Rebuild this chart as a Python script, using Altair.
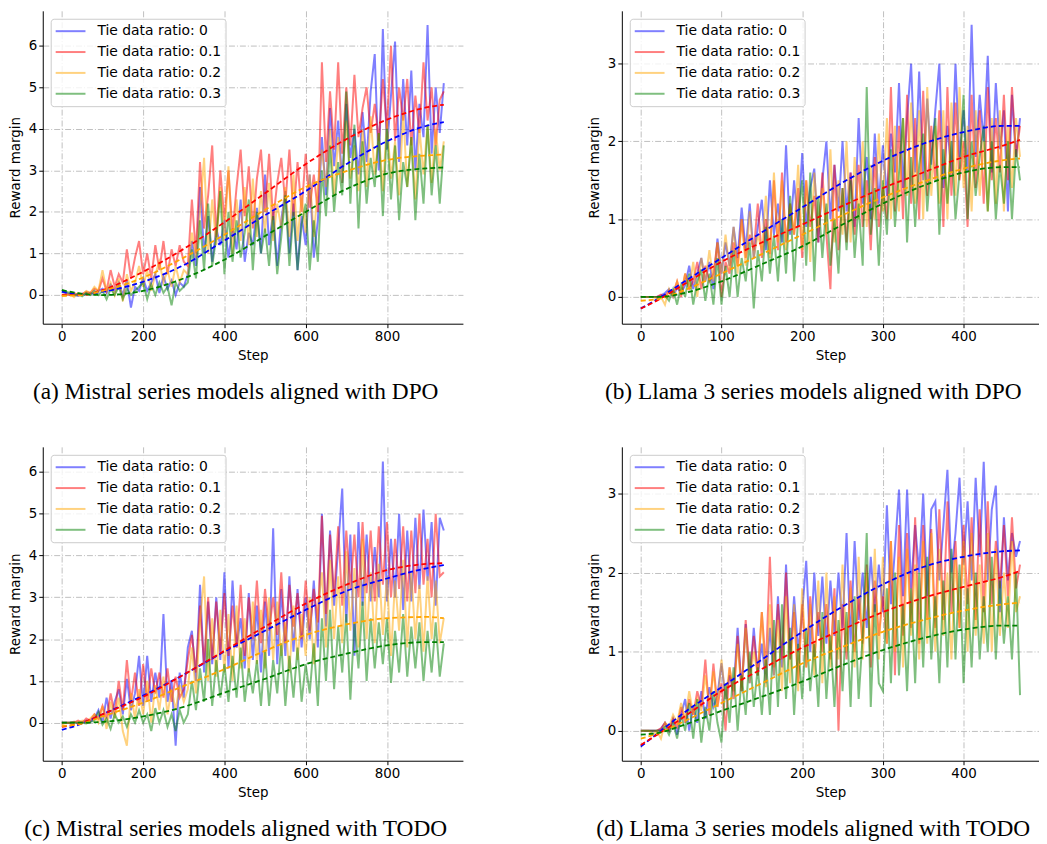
import altair as alt
import pandas as pd

LABELS = ["Tie data ratio: 0", "Tie data ratio: 0.1", "Tie data ratio: 0.2", "Tie data ratio: 0.3"]
COLORS = ["blue", "red", "orange", "green"]

M_STEP = 10   # Mistral runs: one logged value every 10 steps (0..940)
L_STEP = 5    # Llama 3 runs: one logged value every 5 steps (0..470)
M_FIT_X = [0, 50, 100, 200, 300, 400, 500, 600, 700, 800, 900, 940]
L_FIT_X = [0, 25, 50, 100, 150, 200, 250, 300, 350, 400, 450, 470]

M_XTICKS = [0, 200, 400, 600, 800]
L_XTICKS = [0, 100, 200, 300, 400]
M_YTICKS = [0, 1, 2, 3, 4, 5, 6]
L_YTICKS = [0, 1, 2, 3]

# ---------- (a) Mistral + DPO ----------
A_RAW_0 = [0.08, 0.05, 0.02, 0.0, -0.02, 0.03, 0.0, 0.05, 0.02, 0.1,
           0.15, 0.05, 0.25, 0.1, 0.3, 0.0, 0.35, -0.3, 0.2, 0.1,
           0.4, 0.1, 0.3, 0.5, 0.05, 0.45, 0.15, 0.35, 0.0, 0.3,
           0.2, 0.5, 1.3, 0.7, 2.6, 1.0, 1.9, 0.8, 1.6, 1.2,
           1.8, 0.9, 1.6, 1.1, 2.3, 0.8, 1.5, 1.2, 2.1, 1.0,
           2.9, 1.2, 2.0, 0.7, 1.8, 2.5, 1.0, 2.2, 0.6, 1.9,
           1.2, 2.9, 0.9, 1.8, 3.8, 2.4, 4.5, 3.1, 4.2, 2.7,
           4.6, 3.3, 4.0, 2.9, 4.4, 3.2, 4.9, 5.8, 3.0, 6.4,
           3.5, 4.8, 6.1, 3.2, 5.2, 3.6, 5.4, 3.0, 4.6, 3.8,
           6.5, 3.4, 5.0, 3.9, 5.1]
A_RAW_1 = [0.0, 0.02, 0.0, 0.05, 0.0, 0.03, 0.08, 0.05, 0.15, 0.1,
           0.4, 0.1, 0.6, 0.2, 0.5, 0.3, 1.1, 0.4, 0.9, 1.3,
           0.5, 1.0, 0.4, 1.2, 0.6, 1.3, 0.5, 1.1, 0.7, 1.2,
           0.8, 0.7, 2.3, 1.0, 3.2, 1.6, 2.4, 3.6, 1.4, 3.0,
           1.8, 3.0, 1.5, 2.6, 3.5, 1.9, 3.1, 1.6, 2.8, 3.5,
           2.0, 3.4, 1.8, 2.7, 3.3, 2.2, 3.5, 1.9, 3.2, 2.0,
           3.4, 2.1, 2.9, 2.0, 5.6, 3.2, 4.9, 3.5, 5.6, 3.4,
           5.0, 3.6, 5.3, 3.8, 4.5, 5.0, 3.9, 4.6, 3.7, 5.2,
           4.0, 6.0, 3.7, 5.0, 4.2, 5.2, 3.6, 4.8, 3.9, 5.6,
           4.2, 5.0, 3.6, 4.7, 4.9]
A_RAW_2 = [-0.02, 0.0, 0.03, -0.05, 0.05, 0.0, 0.1, 0.05, 0.2, 0.1,
           0.6, 0.1, 0.3, 0.0, 0.4, -0.15, 0.5, 0.1, 0.3, 0.7,
           0.2, 0.6, 0.1, 0.5, 0.8, 0.3, 0.6, 0.2, 0.7, 0.3,
           0.6, 0.5, 1.5, 0.9, 2.0, 3.3, 1.0, 2.3, 1.2, 2.6,
           1.3, 3.1, 1.0, 2.3, 1.3, 2.6, 1.2, 2.8, 1.4, 2.5,
           1.5, 2.7, 1.3, 2.2, 1.6, 2.6, 1.4, 2.9, 1.3, 2.4,
           1.5, 2.9, 1.4, 2.6, 3.5, 2.6, 4.0, 2.4, 3.8, 2.7,
           4.2, 2.8, 3.6, 2.5, 4.0, 2.6, 4.3, 2.9, 3.9, 2.5,
           4.2, 2.8, 3.7, 2.4, 4.4, 2.6, 3.8, 2.3, 4.0, 2.9,
           4.1, 2.7, 4.0, 3.0, 3.7]
A_RAW_3 = [0.12, 0.08, 0.05, 0.0, 0.02, -0.03, 0.05, 0.0, 0.1, 0.0,
           0.1, -0.1, 0.15, 0.0, 0.2, -0.1, 0.15, 0.0, 0.1, 0.2,
           0.3, -0.1, 0.25, 0.0, 0.3, 0.05, 0.2, -0.25, 0.3, 0.1,
           0.2, 0.3, 1.1, 0.4, 1.8, 0.6, 2.2, 0.7, 1.4, 2.5,
           0.5, 2.0, 0.8, 1.8, 0.9, 1.5, 2.3, 0.6, 2.0, 1.0,
           1.6, 0.7, 1.9, 0.5, 1.4, 2.4, 0.7, 2.0, 0.6, 1.7,
           2.2, 0.6, 1.8, 0.8, 3.0, 1.9, 3.6, 2.0, 3.2, 2.4,
           4.9, 2.2, 4.1, 1.6, 3.7, 2.2, 3.3, 2.6, 3.9, 1.9,
           4.0, 2.3, 3.6, 1.8, 3.2, 2.6, 3.8, 1.8, 3.4, 2.2,
           4.1, 2.4, 3.6, 2.2, 3.6]
A_FIT_0 = [0.08, 0.02, 0.08, 0.32, 0.72, 1.31, 1.92, 2.5, 3.15, 3.7, 4.08, 4.16]
A_FIT_1 = [0.0, 0.0, 0.12, 0.56, 1.11, 1.75, 2.45, 3.15, 3.75, 4.22, 4.52, 4.58]
A_FIT_2 = [-0.02, 0.0, 0.1, 0.42, 0.9, 1.45, 2.05, 2.6, 2.98, 3.25, 3.36, 3.38]
A_FIT_3 = [0.12, 0.03, 0.0, 0.1, 0.4, 0.85, 1.42, 2.0, 2.55, 2.92, 3.05, 3.07]

# ---------- (b) Llama 3 + DPO ----------
B_RAW_0 = [0.0, 0.0, 0.0, 0.0, 0.0, 0.02, 0.05, 0.1, 0.0, 0.12,
           0.05, 0.15, 0.4, 0.1, 0.3, 0.5, 0.2, 0.45, 0.1, 0.75,
           0.3, 0.7, 0.4, 0.9, 0.5, 1.15, 0.6, 1.2, 0.5, 0.9,
           1.25, 0.6, 1.5, 0.8, 1.2, 0.7, 1.95, 0.8, 1.5, 0.9,
           1.85, 0.9, 1.4, 1.65, 0.7, 1.5, 2.0, 1.0, 1.7, 1.1,
           2.0, 1.1, 1.6, 0.9, 2.3, 1.2, 1.8, 1.0, 2.1, 1.2,
           1.95, 1.3, 2.1, 1.6, 2.75, 1.4, 2.3, 3.0, 1.6, 2.9,
           1.5, 2.55, 1.7, 2.4, 3.0, 1.4, 2.2, 1.6, 3.0, 1.8,
           2.4, 1.6, 3.5, 1.8, 2.6, 2.0, 3.1, 1.6, 2.75, 1.9,
           2.4, 1.1, 2.6, 1.8, 2.3]
B_RAW_1 = [0.0, 0.0, 0.0, 0.0, 0.0, 0.03, 0.0, 0.08, 0.05, 0.2,
           0.0, 0.3, 0.1, 0.2, 0.45, 0.1, 0.4, 0.2, 0.3, 0.7,
           0.0, 0.45, 0.3, 0.7, 0.4, 1.0, 0.5, 0.8, 0.6, 1.2,
           0.5, 1.0, 0.55, 1.5, 0.6, 1.6, 0.7, 1.2, 0.8, 1.4,
           0.5, 1.5, 0.9, 1.3, 0.7, 1.6, 0.8, 0.1, 1.7, 0.6,
           1.4, 0.7, 1.6, 0.8, 1.7, 0.9, 1.5, 0.6, 1.8, 0.9,
           1.4, 1.0, 2.7, 1.1, 2.2, 1.0, 2.6, 1.2, 2.3, 1.0,
           2.65, 1.3, 2.2, 1.5, 2.4, 0.9, 2.7, 1.3, 2.5, 1.5,
           2.0, 0.9, 2.6, 1.4, 2.4, 1.2, 2.7, 1.5, 2.3, 1.6,
           2.6, 1.5, 2.7, 1.8, 2.2]
B_RAW_2 = [0.0, 0.0, 0.0, 0.0, -0.02, 0.0, -0.1, 0.1, 0.0, 0.2,
           0.05, 0.3, 0.1, 0.45, 0.0, 0.5, 0.2, 0.6, 0.2, 0.7,
           0.3, 0.8, 0.35, 0.9, 0.3, 1.0, 0.4, 1.1, 0.5, 0.8,
           0.6, 1.3, 0.5, 1.6, 0.7, 1.5, 0.6, 1.2, 0.8, 1.7,
           0.6, 1.5, 0.45, 1.6, 0.9, 1.4, 0.8, 1.9, 0.7, 1.5,
           0.8, 2.0, 0.7, 1.8, 1.0, 2.0, 0.9, 1.7, 1.0, 2.1,
           1.1, 2.3, 1.0, 2.2, 1.1, 2.3, 1.3, 2.5, 1.2, 2.4,
           1.0, 2.7, 1.3, 2.2, 1.2, 2.4, 1.0, 2.5, 1.3, 2.7,
           1.4, 2.2, 1.1, 2.4, 1.3, 2.0, 1.1, 2.3, 1.2, 2.4,
           1.1, 2.2, 1.4, 2.3, 1.8]
B_RAW_3 = [0.0, 0.0, 0.0, 0.0, 0.0, 0.0, 0.02, -0.05, 0.1, -0.1,
           0.15, 0.0, 0.3, -0.1, 0.2, 0.35, -0.05, 0.3, -0.1, 0.5,
           -0.1, 0.4, 0.0, 0.6, 0.0, 0.5, 0.2, 0.7, -0.15, 0.6,
           0.2, 0.9, 0.3, 0.8, 0.2, 1.0, 0.3, 1.3, 0.2, 1.0,
           1.5, 0.4, 1.6, 0.2, 1.3, 0.5, 1.2, 0.4, 1.0, 0.3,
           1.4, 0.6, 1.5, 0.5, 1.2, 0.4, 2.7, 0.8, 1.4, 0.4,
           1.5, 0.8, 1.9, 0.9, 1.6, 2.3, 0.7, 1.8, 0.9, 1.7,
           2.1, 1.1, 1.8, 2.3, 0.8, 1.9, 1.2, 2.0, 1.0, 1.6,
           2.6, 1.0, 2.0, 1.3, 1.8, 2.2, 1.1, 2.0, 1.0, 1.7,
           1.2, 2.0, 1.0, 1.9, 1.5]
B_FIT_0 = [-0.15, 0.0, 0.17, 0.5, 0.83, 1.15, 1.47, 1.75, 1.97, 2.12, 2.2, 2.2]
B_FIT_1 = [-0.15, -0.02, 0.14, 0.45, 0.7, 0.93, 1.17, 1.4, 1.6, 1.8, 1.95, 2.02]
B_FIT_2 = [-0.05, -0.02, 0.07, 0.3, 0.55, 0.8, 1.05, 1.28, 1.48, 1.65, 1.76, 1.78]
B_FIT_3 = [0.0, 0.0, 0.04, 0.2, 0.42, 0.65, 0.93, 1.2, 1.43, 1.6, 1.67, 1.67]

# ---------- (c) Mistral + TODO ----------
C_RAW_0 = [0.0, 0.0, 0.0, 0.02, -0.02, 0.0, 0.05, 0.02, 0.1, 0.3,
           0.0, 0.6, 0.1, 0.5, 0.8, 0.2, 1.05, 0.3, 0.7, 1.6,
           0.4, 1.6, 0.5, 1.2, 0.6, 2.6, 0.5, 1.0, -0.55, 1.2,
           0.6, 1.8, 2.2, 1.0, 3.3, 1.2, 2.9, 1.4, 3.0, 1.5,
           3.6, 1.3, 3.4, 1.8, 2.5, 1.3, 3.1, 1.5, 2.8, 1.2,
           2.9, 1.6, 4.65, 1.4, 3.2, 1.6, 3.5, 1.7, 3.2, 1.8,
           3.0, 2.0, 3.4, 1.8, 5.0, 2.3, 4.6, 2.8, 4.2, 5.6,
           2.4, 4.5, 1.6, 4.8, 2.8, 4.5, 2.9, 4.2, 3.0, 6.25,
           2.9, 4.4, 3.0, 5.0, 2.7, 4.6, 2.9, 4.9, 3.2, 5.1,
           3.4, 4.8, 2.8, 4.9, 4.6]
C_RAW_1 = [0.0, 0.0, 0.0, 0.0, 0.05, 0.0, 0.1, 0.05, 0.2, 0.1,
           0.4, 0.1, 0.7, 0.2, 1.0, 0.3, 1.5, 0.5, 1.2, 0.4,
           1.4, 0.5, 1.3, 0.7, 1.2, 0.6, 1.3, 0.5, 1.1, 0.6,
           0.8, 1.5, 2.1, 1.2, 2.8, 1.4, 3.0, 1.5, 2.9, 1.7,
           3.1, 1.6, 2.8, 1.8, 3.3, 1.6, 3.0, 2.0, 3.4, 1.9,
           3.2, 2.2, 3.0, 2.1, 3.6, 1.9, 3.3, 2.3, 3.1, 2.0,
           3.4, 2.2, 3.2, 2.4, 4.95, 2.6, 4.5, 3.0, 4.7, 2.8,
           4.6, 3.2, 4.5, 3.0, 4.8, 3.1, 4.6, 2.9, 4.7, 3.3,
           4.8, 3.0, 4.4, 3.2, 4.7, 2.9, 4.6, 3.1, 5.0, 3.3,
           4.4, 3.0, 5.0, 3.5, 3.6]
C_RAW_2 = [-0.05, 0.0, 0.0, 0.02, 0.0, 0.05, 0.0, 0.1, 0.2, 0.0,
           0.4, -0.15, 0.5, 0.1, 0.6, -0.2, -0.55, 0.7, 0.1, 0.8,
           0.2, 1.0, 0.0, 0.9, 0.3, 1.1, 0.2, 0.8, 0.3, 0.9,
           0.5, 0.8, 1.8, 0.7, 2.4, 3.5, 1.0, 2.5, 1.1, 2.7,
           1.2, 2.6, 1.0, 2.8, 1.3, 2.5, 1.2, 2.9, 1.4, 2.7,
           1.3, 3.0, 1.5, 2.9, 1.6, 2.4, 1.2, 2.8, 1.5, 2.6,
           1.6, 3.0, 1.4, 2.7, 3.6, 1.8, 3.9, 2.0, 3.5, 1.9,
           4.1, 2.2, 3.7, 1.8, 4.4, 2.0, 3.6, 1.9, 3.8, 2.1,
           3.5, 1.6, 3.4, 2.2, 3.9, 1.8, 3.6, 2.0, 3.3, 1.7,
           3.5, 2.0, 3.4, 1.9, 2.5]
C_RAW_3 = [0.0, 0.0, 0.0, 0.0, 0.0, 0.0, -0.02, 0.02, 0.05, 0.25,
           -0.05, 0.1, -0.15, 0.2, 0.0, 0.15, -0.1, 0.2, 0.0, 0.3,
           0.0, 0.2, -0.2, 0.35, 0.0, 0.3, -0.1, 0.2, -0.2, 0.3,
           0.0, 0.2, 1.0, 0.3, 1.3, 0.5, 2.0, 0.4, 1.5, 0.6,
           1.4, 0.5, 1.6, 0.6, 1.8, 0.5, 1.3, 0.7, 1.5, 0.4,
           1.7, 0.4, 1.5, 0.7, 1.9, 0.4, 1.6, 0.6, 1.8, 0.5,
           1.4, 0.7, 1.9, 0.4, 2.5, 1.0, 2.7, 0.8, 2.3, 1.2,
           2.6, 0.55, 2.4, 1.3, 2.9, 1.0, 2.5, 1.3, 2.4, 1.4,
           2.5, 0.95, 2.2, 1.2, 2.6, 1.1, 2.3, 1.3, 2.4, 1.0,
           2.2, 1.2, 2.4, 1.1, 1.9]
C_FIT_0 = [-0.17, -0.02, 0.2, 0.65, 1.15, 1.7, 2.2, 2.7, 3.15, 3.45, 3.7, 3.77]
C_FIT_1 = [-0.1, 0.0, 0.2, 0.62, 1.15, 1.72, 2.3, 2.85, 3.3, 3.65, 3.8, 3.82]
C_FIT_2 = [-0.08, -0.02, 0.15, 0.48, 0.88, 1.28, 1.72, 2.1, 2.35, 2.5, 2.53, 2.5]
C_FIT_3 = [0.0, 0.0, 0.02, 0.15, 0.38, 0.72, 1.05, 1.4, 1.65, 1.85, 1.93, 1.93]

# ---------- (d) Llama 3 + TODO ----------
D_RAW_0 = [0.0, 0.0, 0.0, 0.0, 0.0, 0.02, 0.1, 0.0, 0.15, -0.05,
           0.2, 0.4, 0.0, 0.3, 0.1, 0.5, 0.15, 0.55, 0.3, 0.45,
           0.85, 0.4, 0.7, 0.5, 1.3, 0.5, 1.35, 0.6, 1.3, 0.7,
           1.1, 0.6, 1.3, 0.7, 1.7, 0.8, 2.1, 0.9, 1.7, 1.0,
           1.5, 2.15, 1.0, 2.0, 1.2, 1.95, 1.1, 1.9, 1.2, 2.0,
           1.3, 2.5, 1.1, 2.4, 1.4, 2.0, 1.3, 2.2, 1.5, 2.1,
           1.5, 2.85, 1.6, 2.3, 3.05, 1.7, 3.05, 1.8, 2.6, 2.0,
           3.0, 1.7, 2.8, 2.9, 1.9, 2.6, 3.3, 2.0, 2.5, 3.2,
           2.1, 2.9, 1.9, 3.2, 2.2, 3.4, 1.9, 2.8, 3.1, 1.5,
           2.7, 1.9, 2.5, 2.2, 2.4]
D_RAW_1 = [0.0, 0.0, 0.0, 0.0, 0.0, 0.03, 0.1, 0.0, 0.15, 0.05,
           0.3, 0.1, 0.4, 0.2, 0.5, 0.3, 0.9, 0.2, 0.85, 0.3,
           0.6, 0.0, 0.8, 0.4, 1.2, 0.5, 1.4, 0.7, 1.2, 0.7,
           1.5, 0.8, 2.2, 0.8, 1.6, 0.9, 2.0, 0.9, 1.5, 0.6,
           1.6, 0.8, 1.7, 0.9, 1.5, 1.0, 1.6, 0.9, 1.8, 0.0,
           1.6, 0.9, 1.9, 1.0, 1.7, 1.1, 2.1, 0.8, 1.9, 1.2,
           1.7, 1.1, 2.4, 0.7, 2.6, 1.2, 2.5, 1.3, 2.7, 1.1,
           2.6, 1.4, 2.55, 1.3, 2.8, 1.4, 2.9, 1.5, 2.4, 1.3,
           2.6, 1.6, 2.7, 1.4, 2.8, 1.5, 2.9, 1.6, 2.4, 1.8,
           2.6, 1.7, 2.7, 1.8, 2.1]
D_RAW_2 = [0.0, 0.0, 0.0, -0.05, 0.0, -0.1, 0.1, 0.05, 0.2, 0.1,
           0.35, 0.15, 0.5, 0.2, 0.4, 0.25, 0.7, 0.3, 0.75, 0.3,
           0.9, 0.4, 0.8, 0.5, 1.1, 0.5, 1.3, 0.6, 1.0, 0.7,
           1.5, 0.55, 1.6, 0.7, 1.4, 0.5, 1.7, 0.6, 1.6, 0.5,
           1.8, 0.8, 1.6, 0.7, 1.9, 0.6, 2.0, 0.8, 1.7, 0.9,
           2.1, 1.0, 1.8, 0.8, 2.2, 0.9, 2.0, 1.0, 2.3, 0.9,
           2.2, 1.1, 2.4, 1.0, 2.2, 0.8, 2.3, 1.2, 2.1, 0.9,
           2.4, 1.1, 2.5, 1.0, 2.3, 1.2, 2.0, 0.9, 2.2, 1.3,
           2.4, 1.0, 2.5, 1.2, 2.1, 1.1, 2.5, 1.0, 2.3, 1.2,
           2.0, 1.3, 2.4, 1.5, 1.7]
D_RAW_3 = [0.0, 0.0, 0.0, 0.0, 0.0, 0.0, 0.05, -0.05, 0.1, -0.1,
           0.2, 0.0, 0.35, -0.1, 0.4, -0.15, 0.3, 0.0, 0.5, 0.1,
           -0.15, 0.6, 0.1, 0.8, 0.0, 0.7, 0.2, 1.0, 0.3, 0.8,
           0.2, 0.9, 0.2, 1.4, 0.3, 1.6, 0.4, 1.3, 0.2, 1.1,
           0.4, 1.3, 0.5, 1.1, 0.3, 1.5, 0.4, 1.2, 0.3, 1.4,
           0.5, 1.5, 0.3, 1.7, 0.4, 1.2, 2.5, 0.3, 1.6, 0.6,
           0.5, 1.8, 0.6, 2.0, 0.7, 1.6, 0.5, 1.8, 0.6, 2.0,
           0.8, 2.2, 0.9, 1.7, 0.6, 1.9, 0.8, 2.3, 0.9, 2.1,
           0.6, 1.8, 0.8, 2.0, 0.9, 1.7, 1.0, 2.2, 0.9, 1.9,
           1.1, 1.7, 0.9, 2.0, 0.45]
D_FIT_0 = [-0.2, 0.0, 0.2, 0.55, 0.9, 1.25, 1.57, 1.85, 2.07, 2.2, 2.27, 2.28]
D_FIT_1 = [-0.18, -0.02, 0.15, 0.5, 0.78, 1.05, 1.28, 1.5, 1.68, 1.82, 1.95, 2.02]
D_FIT_2 = [-0.1, -0.02, 0.1, 0.35, 0.6, 0.85, 1.06, 1.25, 1.4, 1.52, 1.6, 1.62]
D_FIT_3 = [-0.05, -0.02, 0.06, 0.25, 0.43, 0.62, 0.83, 1.02, 1.17, 1.28, 1.33, 1.33]


def raw_df(step, series_list):
    rows = []
    for k, vals in enumerate(series_list):
        for i, v in enumerate(vals):
            rows.append({"step": i * step, "value": v, "series": LABELS[k]})
    return pd.DataFrame(rows)


def fit_df(xs, series_list):
    rows = []
    for k, vals in enumerate(series_list):
        for x, v in zip(xs, vals):
            rows.append({"step": x, "value": v, "series": LABELS[k]})
    return pd.DataFrame(rows)


def panel(step, raws, fit_x, fits, xdom, ydom, xticks, yticks, caption, width, height):
    legend = alt.Legend(
        title=None, orient="top-left", offset=8,
        fillColor="rgba(255,255,255,0.8)", strokeColor="#cccccc", cornerRadius=3,
        padding=4, rowPadding=4, clipHeight=17,
        symbolType="stroke", symbolSize=900, symbolStrokeWidth=2, symbolOpacity=0.5,
        symbolOffset=0, labelOffset=11,
        labelFont="DejaVu Sans", labelFontSize=14, labelColor="black",
    )
    color = alt.Color("series:N", scale=alt.Scale(domain=LABELS, range=COLORS), legend=legend)
    x = alt.X("step:Q", scale=alt.Scale(domain=xdom, nice=False, zero=False),
              axis=alt.Axis(values=xticks, title="Step", format="d"))
    y = alt.Y("value:Q", scale=alt.Scale(domain=ydom, nice=False, zero=False),
              axis=alt.Axis(values=yticks, title="Reward margin", format="d"))
    raw = alt.Chart(raw_df(step, raws)).mark_line(strokeWidth=2, opacity=0.5).encode(
        x=x, y=y, color=color, order="step:Q")
    fit = alt.Chart(fit_df(fit_x, fits)).mark_line(
        strokeWidth=1.8, strokeDash=[5, 3], interpolate="monotone").encode(
        x=x, y=y, color=color, order="step:Q")
    return alt.layer(raw, fit).properties(
        width=width, height=height,
        title=alt.TitleParams(caption, orient="bottom", frame="bounds", anchor="middle",
                              font="Liberation Serif", fontSize=23.5, fontWeight="normal",
                              color="black", offset=18),
    )


pa = panel(M_STEP, [A_RAW_0, A_RAW_1, A_RAW_2, A_RAW_3], M_FIT_X,
           [A_FIT_0, A_FIT_1, A_FIT_2, A_FIT_3], [-47, 987], [-0.69, 6.84],
           M_XTICKS, M_YTICKS, "(a) Mistral series models aligned with DPO", 423, 315)
pb = panel(L_STEP, [B_RAW_0, B_RAW_1, B_RAW_2, B_RAW_3], L_FIT_X,
           [B_FIT_0, B_FIT_1, B_FIT_2, B_FIT_3], [-23.5, 493.5], [-0.345, 3.68],
           L_XTICKS, L_YTICKS, "(b) Llama 3 series models aligned with DPO", 420, 315)
pc = panel(M_STEP, [C_RAW_0, C_RAW_1, C_RAW_2, C_RAW_3], M_FIT_X,
           [C_FIT_0, C_FIT_1, C_FIT_2, C_FIT_3], [-47, 987], [-0.91, 6.6],
           M_XTICKS, M_YTICKS, "(c) Mistral series models aligned with TODO", 423, 316)
pd_ = panel(L_STEP, [D_RAW_0, D_RAW_1, D_RAW_2, D_RAW_3], L_FIT_X,
            [D_FIT_0, D_FIT_1, D_FIT_2, D_FIT_3], [-23.5, 493.5], [-0.38, 3.59],
            L_XTICKS, L_YTICKS, "(d) Llama 3 series models aligned with TODO", 420, 316)

row1 = alt.hconcat(pa, pb, spacing=125).resolve_scale(color="independent")
row2 = alt.hconcat(pc, pd_, spacing=125).resolve_scale(color="independent")

chart = alt.vconcat(row1, row2, spacing=43).resolve_scale(
    color="independent"
).properties(padding=0, background="white").configure_axis(
    labelFont="DejaVu Sans", labelFontSize=13.5, labelColor="black",
    titleFont="DejaVu Sans", titleFontSize=13.5, titleFontWeight="normal", titleColor="black",
    domainColor="black", domainWidth=1, tickColor="black", tickSize=4, tickWidth=1,
    gridColor="#b0b0b0", gridDash=[6, 2, 1, 2], gridWidth=0.8,
    labelPadding=2, titlePadding=6,
).configure_view(strokeWidth=0)

chart.save("out.html", embed_options={"renderer": "svg", "actions": False})
